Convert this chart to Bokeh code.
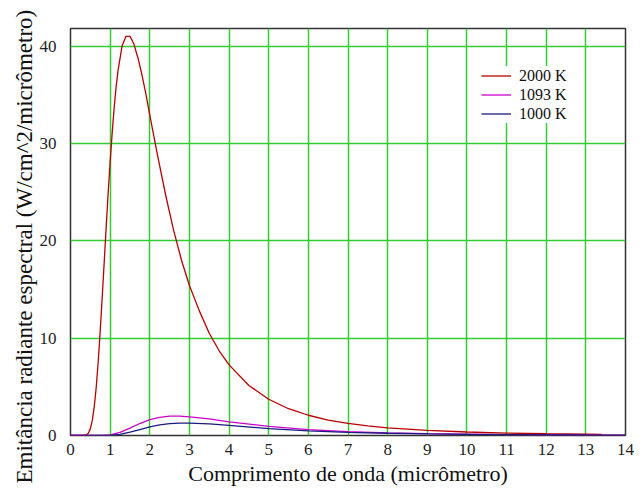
from bokeh.plotting import figure
from bokeh.models import Range1d, FixedTicker, Legend, LegendItem, Title
from bokeh.embed import file_html
from bokeh.resources import INLINE

# wavelength (micrometre) and spectral radiant exitance (W/cm^2/micrometre)
lam_2000 = [0.0, 0.2, 0.3, 0.4, 0.45, 0.5, 0.55, 0.6, 0.65, 0.7, 0.75, 0.8, 0.85, 0.9, 0.95,
            1.0, 1.05, 1.1, 1.15, 1.2, 1.3, 1.4, 1.5, 1.6, 1.7, 1.8, 1.9, 2.0, 2.2, 2.4, 2.6,
            2.8, 3.0, 3.25, 3.5, 3.75, 4.0, 4.5, 5.0, 5.5, 6.0, 6.5, 7.0, 7.5, 8.0, 9.0, 10.0,
            11.0, 12.0, 13.0, 13.4]
val_2000 = [0.0, 0.0, 0.0, 0.06, 0.23, 0.68, 1.55, 3.0, 5.0, 7.65, 10.8, 14.2, 17.8, 21.4, 24.9,
            28.1, 31.0, 33.6, 35.8, 37.5, 40.0, 41.0, 41.0, 40.2, 38.8, 37.1, 35.1, 32.9, 28.7,
            24.7, 21.1, 18.0, 15.4, 12.8, 10.5, 8.7, 7.25, 5.14, 3.72, 2.75, 2.08, 1.59, 1.24,
            0.98, 0.78, 0.52, 0.36, 0.25, 0.18, 0.14, 0.12]

lam_1093 = [0.0, 0.8, 1.0, 1.25, 1.5, 1.75, 2.0, 2.25, 2.5, 2.75, 3.0, 3.5, 4.0, 5.0, 6.0, 7.0,
            8.0, 9.0, 10.0, 11.0, 12.0, 13.0, 14.0]
val_1093 = [0.0, 0.0, 0.07, 0.33, 0.76, 1.23, 1.62, 1.87, 1.99, 1.98, 1.91, 1.70, 1.41, 0.93,
            0.60, 0.40, 0.27, 0.19, 0.14, 0.10, 0.075, 0.057, 0.045]

lam_1000 = [0.0, 0.8, 1.0, 1.25, 1.5, 1.75, 2.0, 2.25, 2.5, 2.75, 3.0, 3.5, 4.0, 5.0, 6.0, 7.0,
            8.0, 9.0, 10.0, 11.0, 12.0, 13.0, 14.0]
val_1000 = [0.0, 0.0, 0.02, 0.12, 0.34, 0.61, 0.88, 1.09, 1.22, 1.28, 1.28, 1.19, 1.03, 0.71,
            0.48, 0.33, 0.23, 0.16, 0.12, 0.086, 0.065, 0.05, 0.039]

series_labels = ["2000 K", "1093 K", "1000 K"]
series_colors = ["#b80000", "#cc00cc", "#1a1a80"]

x_ticks = list(range(0, 15))
y_ticks = [0, 10, 20, 30, 40]

x_title = "Comprimento de onda (micrômetro)"
y_title = "Emitância radiante espectral (W/cm^2/micrômetro)"

FONT = "Liberation Serif"

p = figure(width=634, height=488, output_backend="svg", toolbar_location=None,
           x_range=Range1d(0, 14), y_range=Range1d(0, 41.8),
           min_border_left=70, min_border_right=9, min_border_top=28, min_border_bottom=52)

p.outline_line_color = "#333333"
p.outline_line_width = 1.5
p.background_fill_color = "white"
p.border_fill_color = "white"

for ax in (p.xaxis[0], p.yaxis[0]):
    ax.axis_line_color = None
    ax.major_tick_line_color = None
    ax.minor_tick_line_color = None
    ax.major_label_text_font = FONT
    ax.major_label_text_font_size = "17px"
    ax.major_label_text_color = "#222222"
    ax.axis_label_text_font = FONT
    ax.axis_label_text_font_style = "normal"
    ax.axis_label_text_color = "#111111"

p.xaxis[0].ticker = FixedTicker(ticks=x_ticks)
p.yaxis[0].ticker = FixedTicker(ticks=y_ticks)
p.xaxis[0].major_label_standoff = 2
p.yaxis[0].major_label_standoff = 8
p.xaxis[0].axis_label = x_title
p.xaxis[0].axis_label_text_font_size = "22px"
p.xaxis[0].axis_label_standoff = 3

p.xgrid.ticker = FixedTicker(ticks=x_ticks[1:-1])
p.ygrid.ticker = FixedTicker(ticks=y_ticks[1:])
for g in (p.xgrid[0], p.ygrid[0]):
    g.grid_line_color = "#33cc33"
    g.grid_line_width = 1.5

r1 = p.line(lam_2000, val_2000, line_color=series_colors[0], line_width=1.3)
r2 = p.line(lam_1093, val_1093, line_color=series_colors[1], line_width=1.3)
r3 = p.line(lam_1000, val_1000, line_color=series_colors[2], line_width=1.3)

ytitle = Title(text=y_title, align="left", offset=-48, text_font=FONT,
               text_font_size="23px", text_font_style="normal", text_color="#111111",
               standoff=0)
p.add_layout(ytitle, "left")

legend = Legend(items=[LegendItem(label=series_labels[0], renderers=[r1]),
                       LegendItem(label=series_labels[1], renderers=[r2]),
                       LegendItem(label=series_labels[2], renderers=[r3])],
                location=(411, 312))
legend.border_line_color = None
legend.background_fill_color = "white"
legend.background_fill_alpha = 1.0
legend.label_text_font = FONT
legend.label_text_font_size = "16px"
legend.label_text_color = "#111111"
legend.glyph_width = 30
legend.glyph_height = 19
legend.label_height = 19
legend.spacing = 0
legend.padding = 6
legend.margin = 0
legend.label_standoff = 8
p.add_layout(legend, "center")

open("out.html", "w").write(file_html(p, INLINE))
